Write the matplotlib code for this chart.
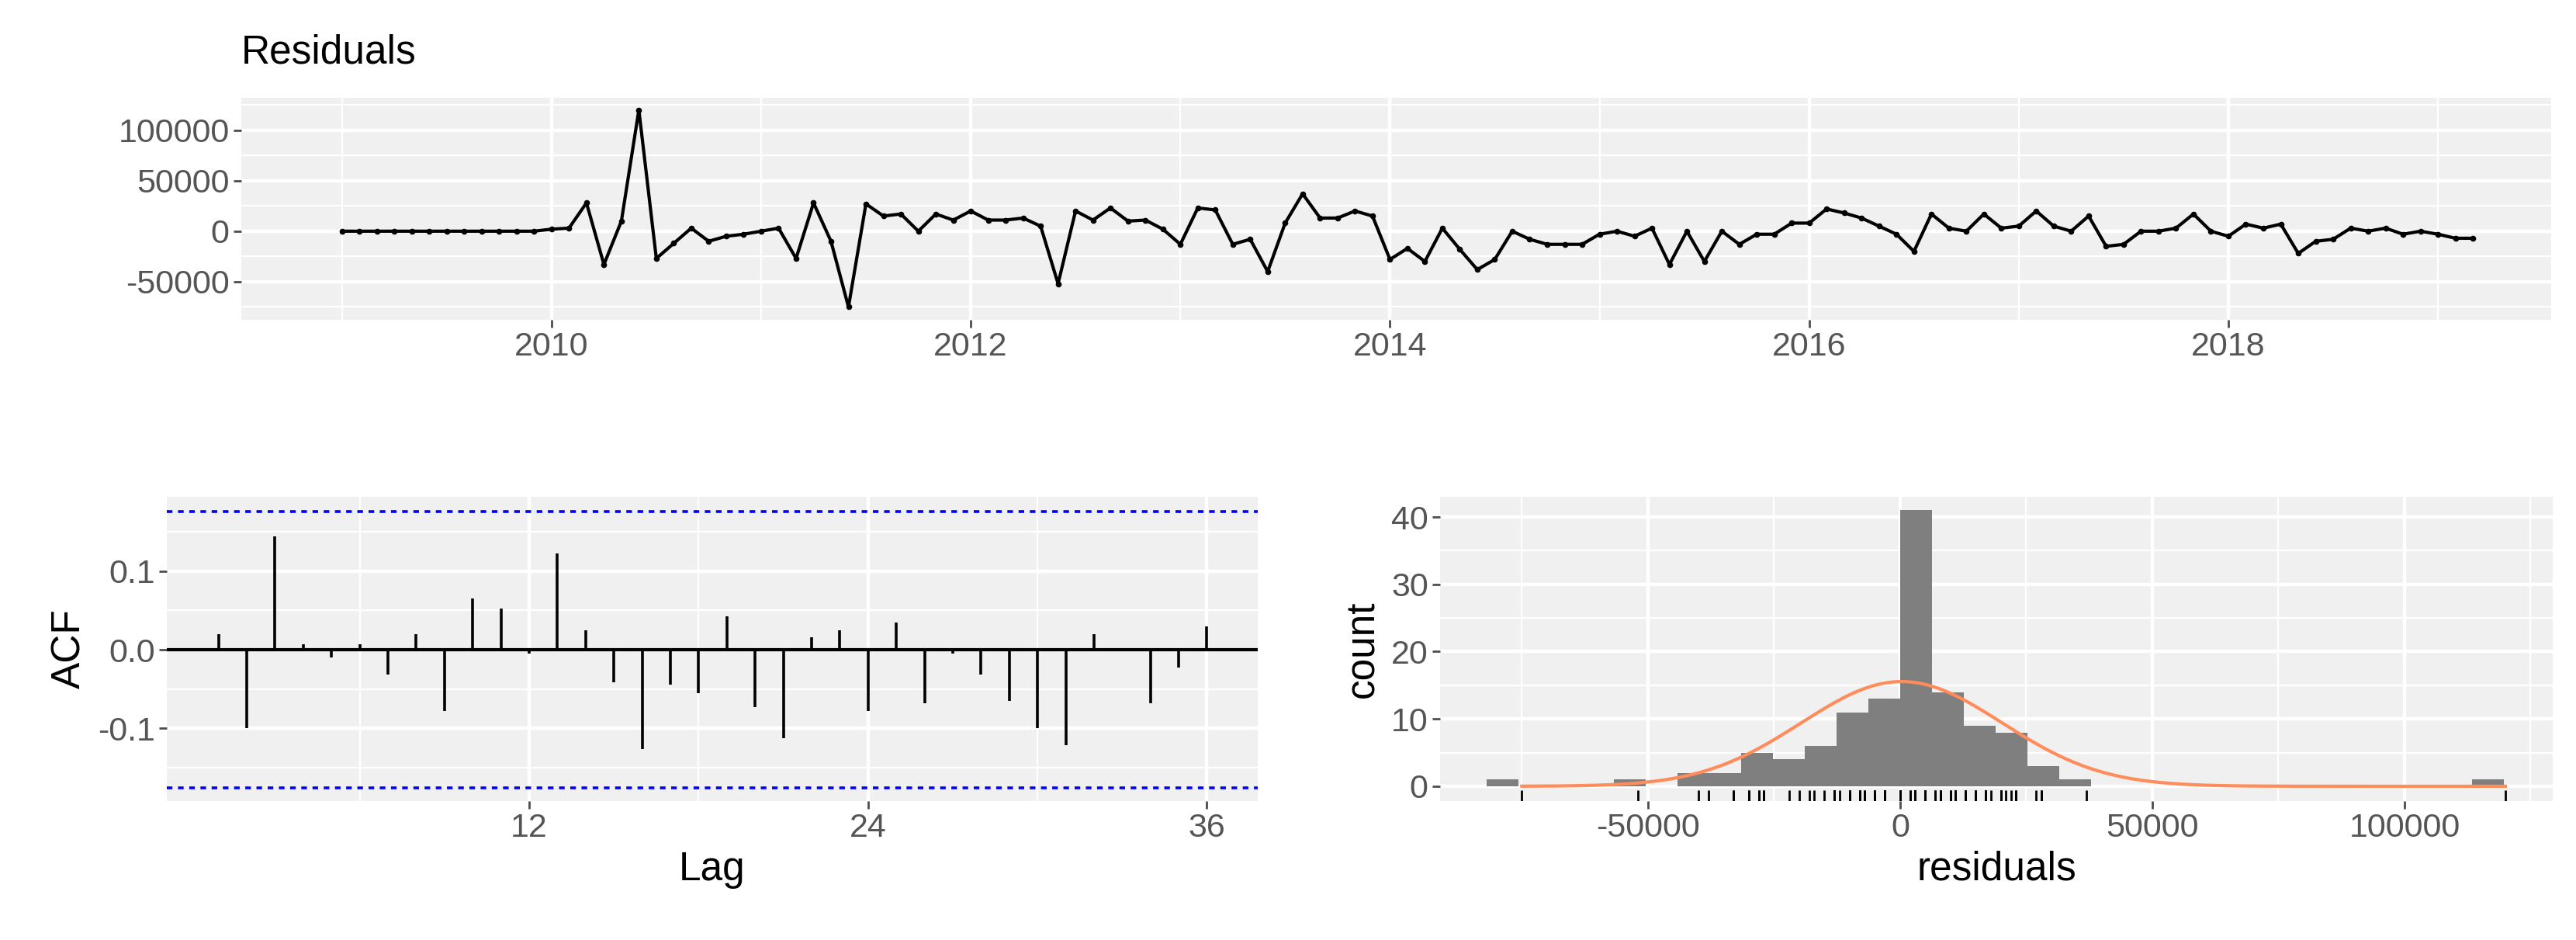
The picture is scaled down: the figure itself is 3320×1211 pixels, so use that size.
import numpy as np
import matplotlib
matplotlib.use("Agg")
import matplotlib.pyplot as plt
from matplotlib.ticker import MultipleLocator, FixedLocator

plt.rcParams['font.family'] = ['Liberation Sans', 'DejaVu Sans']
plt.rcParams['axes.unicode_minus'] = False

start_year = 2009
residuals = [0]*12 + [
    2000, 3000, 28000, -33000, 10000, 120000, -27000, -12000, 3000, -10000, -5000, -3000,
    0, 3000, -27000, 28000, -10000, -75000, 27000, 15000, 17000, 0, 17000, 11000,
    20000, 11000, 11000, 13000, 5000, -52000, 20000, 11000, 23000, 10000, 11000, 2000,
    -13000, 23000, 21000, -13000, -8000, -40000, 8000, 37000, 13000, 13000, 20000, 15000,
    -28000, -17000, -30000, 3000, -18000, -38000, -28000, 0, -8000, -13000, -13000, -13000,
    -3000, 0, -5000, 3000, -33000, 0, -30000, 0, -13000, -3000, -3000, 8000,
    8000, 22000, 18000, 13000, 5000, -3000, -20000, 17000, 3000, 0, 17000, 3000,
    5000, 20000, 5000, 0, 15000, -15000, -13000, 0, 0, 3000, 17000, 0,
    -5000, 7000, 3000, 7000, -22000, -10000, -8000, 3000, 0, 3000, -3000, 0,
    -3000, -7000, -7000]

acf_lags = list(range(1, 37))
acf_vals = [0.02, -0.10, 0.145, 0.007, -0.01, 0.007, -0.032, 0.02, -0.078, 0.065,
            0.052, -0.005, 0.123, 0.025, -0.042, -0.127, -0.045, -0.055, 0.043, -0.073,
            -0.113, 0.016, 0.025, -0.078, 0.035, -0.068, -0.005, -0.032, -0.065, -0.10,
            -0.122, 0.02, 0.0, -0.068, -0.023, 0.03]
conf = 0.176

bin_width = 6300
bin_index = [-13, -9, -7, -6, -5, -4, -3, -2, -1, 0, 1, 2, 3, 4, 5, 18]
bin_counts = [1, 1, 2, 2, 5, 4, 6, 11, 13, 41, 14, 9, 8, 3, 1, 1]

W, H = 3320, 1211
fig = plt.figure(figsize=(W/100, H/100), dpi=100)
BG = '#F0F0F0'
TICKC = '#4D4D4D'
FS = 31
LFS = 37

def ax_at(l, t, r, b):
    return fig.add_axes([l/W, 1-b/H, (r-l)/W, (b-t)/H])

def style(ax):
    ax.set_facecolor(BG)
    for s in ax.spines.values():
        s.set_visible(False)
    ax.grid(which='major', color='white', lw=3.2)
    ax.grid(which='minor', color='white', lw=1.6)
    ax.set_axisbelow(True)
    ax.tick_params(which='major', colors=TICKC, labelsize=FS, length=7, width=2, pad=4)
    ax.tick_params(which='minor', length=0)
    for lab in ax.get_xticklabels() + ax.get_yticklabels():
        lab.set_color('#555555')

# Top panel
ax1 = ax_at(311, 126, 3288, 412)
t = [start_year + i/12 for i in range(len(residuals))]
ax1.plot(t, residuals, color='black', lw=3, marker='o', ms=4.5, zorder=3)
ax1.set_xlim(2008.52, 2019.54)
ax1.set_ylim(-87700, 132000)
ax1.xaxis.set_major_locator(MultipleLocator(2))
ax1.xaxis.set_minor_locator(MultipleLocator(1))
ax1.yaxis.set_major_locator(FixedLocator([-50000, 0, 50000, 100000]))
ax1.yaxis.set_minor_locator(FixedLocator([-75000, -25000, 25000, 75000, 125000]))
style(ax1)
ax1.set_title('Residuals', loc='left', fontsize=LFS, pad=32)

# ACF
ax2 = ax_at(215, 640, 1621, 1032)
ax2.vlines(acf_lags, 0, acf_vals, color='black', lw=2.6, zorder=3)
ax2.axhline(0, color='black', lw=3, zorder=3)
ax2.axhline(conf, color='#0000FF', lw=2.6, ls=(0, (2, 2)), zorder=3)
ax2.axhline(-conf, color='#0000FF', lw=2.6, ls=(0, (2, 2)), zorder=3)
ax2.set_xlim(-0.83, 37.8)
ax2.set_ylim(-0.193, 0.195)
ax2.xaxis.set_major_locator(FixedLocator([12, 24, 36]))
ax2.xaxis.set_minor_locator(FixedLocator([6, 18, 30]))
ax2.yaxis.set_major_locator(FixedLocator([-0.1, 0.0, 0.1]))
ax2.yaxis.set_minor_locator(FixedLocator([-0.15, -0.05, 0.05, 0.15]))
ax2.yaxis.set_major_formatter(matplotlib.ticker.FormatStrFormatter('%.1f'))
style(ax2)
ax2.set_xlabel('Lag', fontsize=LFS, labelpad=6)
ax2.set_ylabel('ACF', fontsize=LFS, labelpad=8)

# Histogram
ax3 = ax_at(1856, 640, 3290, 1032)
lefts = [k*bin_width for k in bin_index]
ax3.bar(lefts, bin_counts, width=bin_width, align='edge', color='#7F7F7F', zorder=2)
r = np.array(residuals, dtype=float)
mu, sd = r.mean(), r.std(ddof=1)
xs = np.linspace(r.min(), r.max(), 400)
ys = np.exp(-0.5*((xs-mu)/sd)**2)/(sd*np.sqrt(2*np.pi))*len(r)*bin_width
ax3.plot(xs, ys, color='#FF8C5A', lw=3, zorder=3)
ax3.vlines(r, -2.2, -0.6, color='black', lw=2, zorder=3)
ax3.set_xlim(-91200, 129400)
ax3.set_ylim(-2.2, 43)
ax3.xaxis.set_major_locator(FixedLocator([-50000, 0, 50000, 100000]))
ax3.xaxis.set_minor_locator(FixedLocator([-75000, -25000, 25000, 75000, 125000]))
ax3.yaxis.set_major_locator(FixedLocator([0, 10, 20, 30, 40]))
ax3.yaxis.set_minor_locator(FixedLocator([5, 15, 25, 35]))
style(ax3)
ax3.set_xlabel('residuals', fontsize=LFS, labelpad=6)
ax3.set_ylabel('count', fontsize=LFS, labelpad=8)

fig.savefig('out.png', dpi=100, facecolor='white')
